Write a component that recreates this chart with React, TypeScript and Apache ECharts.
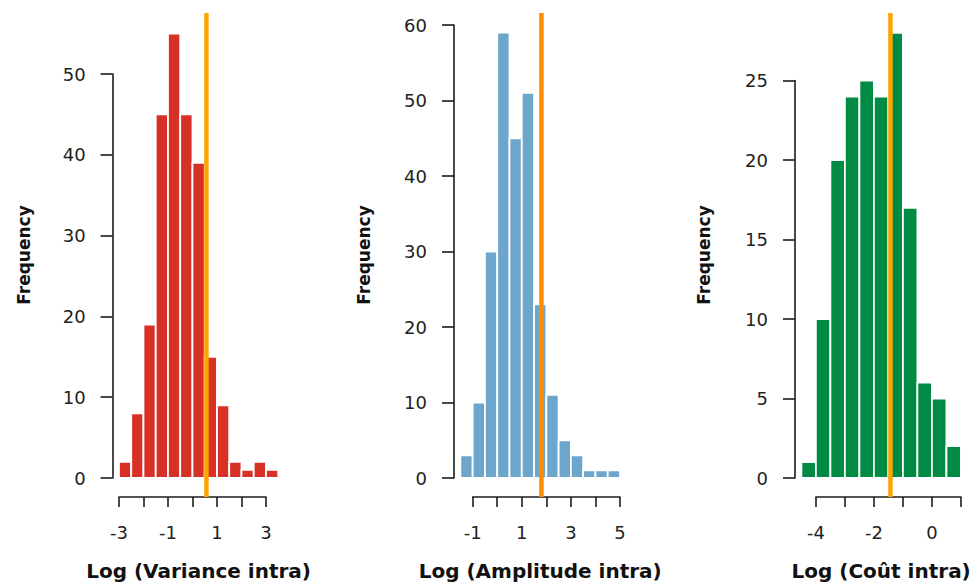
import React, { useEffect, useRef } from 'react';
import * as echarts from 'echarts';

// ---- data ----
const binWidth = 0.5;
const varianceStart = -3;
const varianceCounts = [2, 8, 19, 45, 55, 45, 39, 15, 9, 2, 1, 2, 1];
const amplitudeStart = -1.5;
const amplitudeCounts = [3, 10, 30, 59, 45, 51, 23, 11, 5, 3, 1, 1, 1];
const coutStart = -4.5;
const coutCounts = [1, 10, 20, 24, 25, 24, 28, 17, 6, 5, 2];
const refLines = [0.57, 1.8, -1.43];
const titles = ['Log (Variance intra)', 'Log (Amplitude intra)', 'Log (Coût intra)'];
const yTitle = 'Frequency';
const varianceXTicks = [-3, 3];
const amplitudeXTicks = [-1, 5];
const coutXTicks = [-4, 1];
const varianceXLabels = [-3, -1, 1, 3];
const amplitudeXLabels = [-1, 1, 3, 5];
const coutXLabels = [-4, -2, 0];
const varianceYTicks = [0, 50, 10];
const amplitudeYTicks = [0, 60, 10];
const coutYTicks = [0, 25, 5];

// ---- styles / layout ----
const barColors = ['#D73027', '#6CA6CD', '#008B45'];
const lineColors = ['#FFA500', '#FF8C00', '#FFA500'];
const layouts = [
  { left: 112.6, width: 172, xMin: -3.26, xMax: 3.76, yTopPx: 74, nameGapY: 80 },
  { left: 454, width: 172.4, xMin: -1.76, xMax: 5.26, yTopPx: 25, nameGapY: 82 },
  { left: 795, width: 172.3, xMin: -4.72, xMax: 1.22, yTopPx: 80.6, nameGapY: 83 },
];
const zeroPx = 478;
const plotTop = 13;
const plotBottom = 497;
const axisColor = '#1c1c1c';
const labelFont = 'DejaVu Sans';

const starts = [varianceStart, amplitudeStart, coutStart];
const countsList = [varianceCounts, amplitudeCounts, coutCounts];
const xTicksList = [varianceXTicks, amplitudeXTicks, coutXTicks];
const xLabelsList = [varianceXLabels, amplitudeXLabels, coutXLabels];
const yTicksList = [varianceYTicks, amplitudeYTicks, coutYTicks];

function buildOption() {
  const grid: any[] = [];
  const xAxis: any[] = [];
  const yAxis: any[] = [];
  const series: any[] = [];

  for (let i = 0; i < 3; i++) {
    const L = layouts[i];
    const [y0, yTop, yInt] = yTicksList[i];
    const yPPU = (zeroPx - L.yTopPx) / (yTop - y0);
    const yMin = -(plotBottom - zeroPx) / yPPU;
    const yMax = (zeroPx - plotTop) / yPPU;
    const xPPU = L.width / (L.xMax - L.xMin);
    const [xt0, xt1] = xTicksList[i];
    const g = i * 3;

    // plot grid
    grid.push({ left: L.left, width: L.width, top: plotTop, height: plotBottom - plotTop, containLabel: false, outerBoundsMode: 'none' });
    xAxis.push({
      type: 'value', gridIndex: g, min: L.xMin, max: L.xMax,
      axisLine: { show: false }, axisTick: { show: false }, axisLabel: { show: false }, splitLine: { show: false },
      name: titles[i], nameLocation: 'middle', nameGap: 64, nameMoveOverlap: false,
      nameTextStyle: { fontFamily: labelFont, fontWeight: 'bold', fontSize: 20, color: '#111' },
    });
    yAxis.push({
      type: 'value', gridIndex: g, min: yMin, max: yMax,
      axisLine: { show: false }, axisTick: { show: false }, axisLabel: { show: false }, splitLine: { show: false },
      name: yTitle, nameLocation: 'middle', nameGap: L.nameGapY, nameRotate: 90, nameMoveOverlap: false,
      nameTextStyle: { fontFamily: labelFont, fontWeight: 'bold', fontSize: 17, color: '#111' },
    });

    // y axis grid (R style)
    grid.push({ left: L.left, width: 1, top: L.yTopPx, height: zeroPx - L.yTopPx, containLabel: false, outerBoundsMode: 'none' });
    xAxis.push({ type: 'value', gridIndex: g + 1, show: false, min: 0, max: 1 });
    yAxis.push({
      type: 'value', gridIndex: g + 1, min: y0, max: yTop, interval: yInt, position: 'left',
      axisLine: { show: true, lineStyle: { color: axisColor, width: 1.6 } },
      axisTick: { show: true, length: 12, lineStyle: { color: axisColor, width: 1.6 } },
      axisLabel: { show: true, margin: 27, fontFamily: labelFont, fontSize: 18, color: '#222' },
      splitLine: { show: false },
    });

    // x axis grid (R style)
    const xLabels = xLabelsList[i];
    grid.push({ left: L.left + (xt0 - L.xMin) * xPPU, width: (xt1 - xt0) * xPPU, top: plotBottom - 1, height: 1, containLabel: false, outerBoundsMode: 'none' });
    xAxis.push({
      type: 'value', gridIndex: g + 2, min: xt0, max: xt1, interval: 1, position: 'bottom',
      axisLine: { show: true, lineStyle: { color: axisColor, width: 1.6 } },
      axisTick: { show: true, length: 10, lineStyle: { color: axisColor, width: 1.6 } },
      axisLabel: {
        show: true, margin: 26, fontFamily: labelFont, fontSize: 18, color: '#222',
        formatter: (v: number) => (xLabels.includes(v) ? String(v) : ''),
      },
      splitLine: { show: false },
    });
    yAxis.push({ type: 'value', gridIndex: g + 2, show: false, min: 0, max: 1 });

    // histogram bars
    const start = starts[i];
    const data = countsList[i].map((c, k) => [start + k * binWidth, start + (k + 1) * binWidth, c]);
    const color = barColors[i];
    series.push({
      type: 'custom', xAxisIndex: g, yAxisIndex: g,
      encode: { x: [0, 1], y: 2 },
      data,
      renderItem: (_p: any, api: any) => {
        const p0 = api.coord([api.value(0), api.value(2)]);
        const p1 = api.coord([api.value(1), 0]);
        return {
          type: 'rect',
          shape: { x: p0[0], y: p0[1], width: p1[0] - p0[0], height: p1[1] - p0[1] },
          style: { fill: color, stroke: '#ffffff', lineWidth: 1.8 },
        };
      },
      z: 2,
    });

    // reference line
    series.push({
      type: 'line', xAxisIndex: g, yAxisIndex: g,
      data: [[refLines[i], yMin], [refLines[i], yMax]],
      symbol: 'none', lineStyle: { color: lineColors[i], width: 4.5 }, z: 5, silent: true,
    });
  }

  return { animation: false, backgroundColor: '#ffffff', textStyle: { fontFamily: labelFont }, grid, xAxis, yAxis, series };
}

export default function App() {
  const ref = useRef<HTMLDivElement>(null);
  useEffect(() => {
    document.body.style.margin = '0';
    if (!ref.current) return;
    const chart = echarts.init(ref.current, undefined, { renderer: 'svg' });
    chart.setOption(buildOption() as any);
    return () => chart.dispose();
  }, []);
  return <div ref={ref} style={{ width: 974, height: 585 }} />;
}
